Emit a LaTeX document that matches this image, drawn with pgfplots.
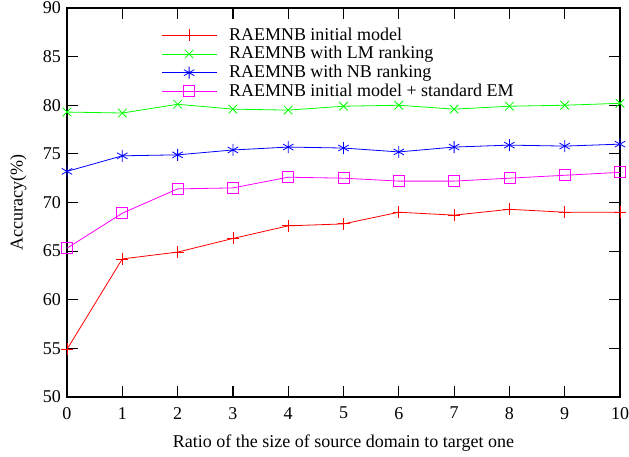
\documentclass[border=0pt]{standalone}
\usepackage{fontspec}
\setmainfont{Liberation Serif}
\usepackage{pgfplots}
\pgfplotsset{compat=1.18}
\definecolor{gpred}{RGB}{255,0,0}
\definecolor{gpgreen}{RGB}{0,255,0}
\definecolor{gpblue}{RGB}{0,0,255}
\definecolor{gpmagenta}{RGB}{255,0,255}
% longer legend sample, mark in the middle
\pgfplotsset{
    longline legend/.style={
        legend image code/.code={
            \draw[mark repeat=2, mark phase=2, ##1]
              plot coordinates {(0pt,0pt) (27.5pt,0pt) (55pt,0pt)};
        }
    }
}

\begin{document}
\fontsize{18}{21}\selectfont
\begin{tikzpicture}
    \begin{axis}[
        scale only axis,
        width  = 553pt,
        height = 389pt,
        xmin = 0, xmax = 10,
        ymin = 50, ymax = 90,
        xtick = {0,...,10},
        ytick = {50,55,...,90},
        tick align = inside,
        major tick length = 11pt,
        axis line style = {line width=1.4pt},
        every tick/.style = {line width=1.2pt},
        /pgf/number format/assume math mode=true,
        ticklabel style = {font=\fontsize{18}{21}\selectfont},
        label style = {font=\fontsize{18}{21}\selectfont},
        xticklabel style = {yshift=-4pt},
        xlabel = {Ratio of the size of source domain to target one},
        ylabel = {Accuracy(\%)},
        xlabel style = {yshift=-3pt},
        ylabel style = {yshift=4pt},
        legend cell align = left,
        legend style = {
            draw=none, fill=none, inner sep=0pt,
            at={(0.17,0.955)}, anchor=north west,
            font=\fontsize{18}{21}\selectfont,
            row sep=-0.5pt,
            /tikz/every odd column/.append style={column sep=10pt},
        },
        longline legend,
        every axis plot/.append style = {line width=0.8pt, mark size=6pt},
    ]

      \addplot[color=gpred, mark=+]
        coordinates { (0,54.9) (1,64.2) (2,64.9) (3,66.3) (4,67.6) (5,67.8) (6,69.0) (7,68.7) (8,69.3) (9,69.0) (10,69.0) };

      \addplot[color=gpgreen, mark=x]
        coordinates { (0,79.3) (1,79.2) (2,80.1) (3,79.6) (4,79.5) (5,79.9) (6,80.0) (7,79.6) (8,79.9) (9,80.0) (10,80.2) };

      \addplot[color=gpblue, mark=asterisk]
        coordinates { (0,73.2) (1,74.8) (2,74.9) (3,75.4) (4,75.7) (5,75.6) (6,75.2) (7,75.7) (8,75.9) (9,75.8) (10,76.0) };

      \addplot[color=gpmagenta, mark=square, mark size=5.5pt]
        coordinates { (0,65.3) (1,68.9) (2,71.4) (3,71.5) (4,72.6) (5,72.5) (6,72.2) (7,72.2) (8,72.5) (9,72.8) (10,73.1) };

      \legend{RAEMNB initial model, RAEMNB with LM ranking, RAEMNB with NB ranking, RAEMNB initial model + standard EM}

    \end{axis}
    \pgfresetboundingbox
    \useasboundingbox ([shift={(-67pt,-60pt)}]current axis.south west)
      rectangle ([shift={(9pt,8pt)}]current axis.north east);
\end{tikzpicture}
\end{document}
